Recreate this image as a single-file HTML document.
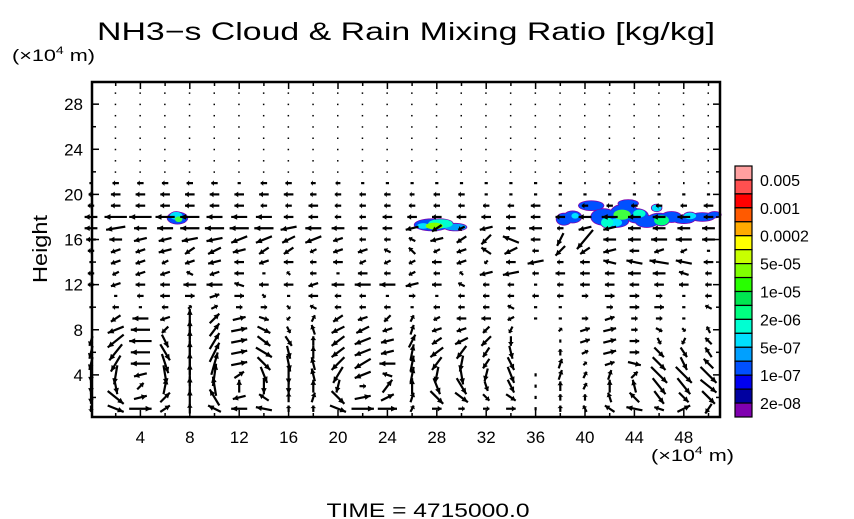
<!DOCTYPE html>
<html><head><meta charset="utf-8">
<style>
html,body{margin:0;padding:0;background:#fff;}
svg{display:block;font-family:"Liberation Sans","DejaVu Sans",sans-serif;}
</style></head>
<body>
<svg id="chart" width="854" height="519" viewBox="0 0 854 519" xmlns="http://www.w3.org/2000/svg">
<rect x="0" y="0" width="854" height="519" fill="#fff"/>
<text x="406" y="40" font-size="25" text-anchor="middle" textLength="618" lengthAdjust="spacingAndGlyphs" fill="#000">NH3−s Cloud &amp; Rain Mixing Ratio [kg/kg]</text>
<text x="12" y="61" font-size="17" textLength="83" lengthAdjust="spacingAndGlyphs" fill="#000">(×10<tspan font-size="11" dy="-7">4</tspan><tspan dy="7"> m)</tspan></text>
<text x="651" y="461" font-size="17" textLength="83" lengthAdjust="spacingAndGlyphs" fill="#000">(×10<tspan font-size="11" dy="-7">4</tspan><tspan dy="7"> m)</tspan></text>
<text transform="translate(47,249) rotate(-90)" font-size="20" text-anchor="middle" textLength="68" lengthAdjust="spacingAndGlyphs" fill="#000">Height</text>
<text x="428" y="517" font-size="19" text-anchor="middle" textLength="203" lengthAdjust="spacingAndGlyphs" fill="#000">TIME = 4715000.0</text>
<g id="clouds"></g>
<g id="arrows"></g>
<g id="axes"></g>
<g id="cbar"></g>
</svg>
<script>
// ---- data ----
const xTicks = [4, 8, 12, 16, 20, 24, 28, 32, 36, 40, 44, 48];
const yTicks = [4, 8, 12, 16, 20, 24, 28];
const gridX = [0,2,4,6,8,10,12,14,16,18,20,22,24,26,28,30,32,34,36,38,40,42,44,46,48,50];
const rowY = [1,2,3,4,5,6,7,8,9,10,11,12,13,14,15,16,17,18,19,20,21];
const uRows = [
"0 10 14 6 0 -8 -10 -10 0 0 10 14 12 2 6 4 4 6 0 0 -2 -6 -10 -6 8 -4",
"0 10 8 6 0 -6 -8 -6 0 2 8 10 8 2 8 8 4 6 0 0 0 -2 -6 6 6 8",
"0 2 4 2 0 -2 0 0 0 0 -2 4 6 0 4 6 2 4 0 0 2 0 -2 8 8 10",
"0 -2 -8 2 0 2 6 4 0 -2 -6 -10 -6 2 -2 2 -2 4 0 2 2 2 4 10 10 10",
"-2 -6 -12 4 0 4 10 8 2 -2 -8 -10 -10 2 -6 -2 -4 4 0 2 2 6 8 8 4 -6",
"-2 -8 -12 6 0 6 10 10 2 0 -8 -10 -8 2 -8 -6 -4 2 0 0 4 8 6 6 4 -4",
"-2 -10 -14 4 0 6 10 8 4 0 -8 -10 -8 4 -6 -8 -6 0 0 0 6 8 6 2 -2 -4",
"0 -10 -12 -4 0 6 10 8 2 -2 -8 -8 -6 2 -6 -6 -4 -2 0 2 6 8 4 4 2 -2",
"0 -6 -10 -6 0 6 8 6 -2 2 -6 -6 -4 2 -4 -6 -6 -4 -2 2 4 6 4 4 2 0",
"-2 -4 -2 -4 2 4 4 4 2 -4 -4 -4 -4 -2 -4 -4 -4 -4 -2 -2 0 4 6 6 2 -4",
"0 -2 -4 -6 6 6 6 2 -2 -6 -4 -4 -2 4 -2 -4 -4 -4 -4 -4 4 6 6 4 2 -4",
"-4 -6 -6 -6 -8 -10 -6 -6 -6 -6 -8 -10 -10 -8 -6 -4 -4 -4 -2 -4 -6 -6 -6 -6 -6 -4",
"-4 -4 -6 -6 -4 -6 -6 -2 -2 -4 -2 -6 -4 -4 -4 -2 -8 -10 -4 -6 -6 -6 -8 -8 -6 -4",
"-2 -6 -6 -4 -6 -8 -6 -6 -6 -4 -6 -4 -4 -4 -6 -6 -2 -6 -10 -4 -6 -8 -10 -12 -10 -6",
"-4 -6 -6 -8 -6 -8 -8 -6 -6 -4 -6 -6 -4 -4 -4 -6 -6 -8 -4 -6 -6 -8 -6 -6 -4 -2",
"-6 -8 -8 -8 -10 -10 -10 -10 -8 -10 -6 -4 -4 -4 -8 -6 -6 -10 -6 -4 -10 -8 -8 -10 -10 -8",
"-8 -12 -8 -10 -12 -12 -12 -12 -10 -10 -8 -6 -6 -8 -6 -4 -8 -6 -8 -4 -8 -8 -8 -8 -8 -8",
"-8 -14 -14 -12 -12 -10 -10 -10 -6 -6 -4 -4 -6 -6 -6 -6 -6 -6 -6 -6 -8 -10 -8 -8 -8 -6",
"-4 -6 -6 -6 -6 -6 -6 -4 -4 -6 -4 -4 -4 -4 -4 -4 -4 -4 -6 -2 -4 -4 -4 -4 -4 -6",
"-3 -6 -6 -6 -6 -6 -6 -6 -6 -4 -4 -4 -4 -3 -4 -4 -2 -2 -2 -2 -2 -2 -2 -2 -2 -2",
"-2 -4 -4 -4 -4 -4 -2 -4 -4 -3 -3 -2 -2 -2 -2 -2 -2 -2 -2 -2 -1 -1 -1 -1 -1 -1"
];
const wRows = [
"-4 -4 0 4 6 4 0 2 4 4 -4 0 0 4 0 0 0 0 2 4 4 4 2 2 4 -6",
"-8 -8 2 6 10 10 -2 4 6 6 -8 2 4 6 -8 -6 -4 -4 2 4 4 6 6 -8 -6 -8",
"-10 -10 4 10 12 12 8 -10 -10 8 -8 0 8 10 -10 -10 -6 -8 2 6 4 8 8 -10 -10 -8",
"-10 -12 -2 -12 14 14 4 -10 -12 8 -10 -4 2 10 -10 -12 -8 -10 2 6 4 6 4 -10 -10 -10",
"-8 -10 0 -12 14 14 2 -8 -10 8 -8 -6 0 10 -8 -10 -6 -8 0 6 2 2 -2 -8 -8 6",
"-8 -10 0 -10 14 12 2 -6 -8 8 -6 -4 -2 10 -6 -8 -6 -8 0 4 2 2 0 -6 -6 6",
"-6 -8 0 -8 14 10 2 -6 -6 6 -6 -4 -2 8 -4 -4 -6 -6 0 2 2 2 0 -4 -4 4",
"0 -4 0 -4 12 8 2 -4 -4 6 -4 -4 -2 6 -2 -2 -4 -4 0 2 2 2 0 -2 -2 4",
"0 -4 0 -2 12 6 2 -2 -2 4 -4 -2 -4 4 -2 0 0 -2 0 0 0 2 0 0 0 0",
"0 0 0 0 2 2 0 0 -2 2 0 0 0 0 0 0 0 2 0 0 0 0 0 0 0 2",
"0 0 0 0 0 2 0 -2 0 0 0 0 0 0 0 0 0 0 0 0 0 0 0 0 0 0",
"0 -2 0 0 0 0 2 0 0 -2 0 0 0 -2 0 2 0 0 0 0 0 0 0 0 0 0",
"0 -2 -2 -2 2 -2 0 0 2 0 0 0 0 -2 0 2 -2 -2 0 0 0 0 0 0 2 0",
"0 -2 -2 -2 -2 -2 0 -2 0 0 0 -2 -2 -2 0 -2 -2 0 -2 0 0 2 2 2 2 0",
"0 -2 -2 -2 -4 -4 -2 -4 -4 -2 -2 -2 2 4 -2 -2 4 -4 0 -6 -4 -2 0 -2 -2 0",
"0 0 -2 -2 -2 -2 -4 -4 -4 -4 -2 0 0 2 -2 -4 -6 4 0 -8 -12 0 0 0 0 0",
"0 -2 0 0 0 0 0 0 -2 0 0 0 0 -2 -4 -2 -2 0 0 0 -2 -2 0 0 0 0",
"0 0 0 0 0 0 0 0 0 0 0 0 0 0 0 0 0 0 0 0 0 0 0 0 0 0",
"0 0 0 0 0 0 0 0 0 0 0 0 0 0 0 0 0 0 0 0 0 0 0 0 0 0",
"0 0 0 0 0 0 0 0 0 0 0 0 0 0 0 0 0 0 0 0 0 0 0 0 0 0",
"0 0 0 0 0 0 0 0 0 0 0 0 0 0 0 0 0 0 0 0 0 0 0 0 0 0"
];
const dotRows = [22,23,24,25,26,27,28,29];
// cloud blobs: x, y (data units), radius x, radius y (data units), color level index
const cloudX = [7.0,6.9,7.1, 27.6,28.3,27.8,29.5,26.9, 38.3,39.0,40.5,41.5,42.5,43.2,44.2,45.0,46.0,47.0,48.0,49.5,50.5, 41.8,43.0,44.4,46.2,39.2,42.5,43.5,45.8,48.5];
const cloudY = [17.9,18.1,17.8, 17.3,17.4,17.2,17.1,17.2, 17.8,18.0,19.0,18.0,17.6,18.4,18.1,17.6,17.8,18.0,17.8,18.0,18.2, 17.5,18.2,18.3,17.7,18.1,17.5,19.2,18.8,18.1];
const cloudRX = [0.8,0.5,0.3, 1.4,1.0,0.7,0.9,0.5, 0.6,0.7,1.0,1.0,1.0,1.1,0.9,0.9,0.9,0.8,0.9,1.0,0.5, 0.5,0.7,0.5,0.6,0.3,0.5,0.8,0.4,0.5];
const cloudRY = [0.5,0.35,0.25, 0.5,0.4,0.3,0.3,0.25, 0.5,0.5,0.4,0.7,0.5,0.7,0.6,0.5,0.5,0.45,0.35,0.35,0.25, 0.45,0.45,0.35,0.45,0.25,0.35,0.3,0.3,0.3];
const cloudLvl = [1,3,6, 1,4,7,2,3, 1,1,1,1,1,1,1,1,1,1,1,1,1, 4,6,4,5,3,3,1,3,3];
const cloudColors = ["#8000b0","#0050ff","#00a0ff","#00e0ff","#00ffd0","#00ff80","#40ff40","#80ff00"];
const cbarColors = ["#ffa0a0","#ff5050","#ff0000","#ff5a00","#ffaa00","#ffff00","#c8ff00","#80ff00","#28ff00","#00e650","#00ff80","#00ffd2","#00e0ff","#00a0ff","#0050ff","#0000f0","#0000a0","#8000b0"];
const cbarLabels = ["0.005","0.001","0.0002","5e-05","1e-05","2e-06","5e-07","1e-07","2e-08"];

// ---- axes ----
const NS = "http://www.w3.org/2000/svg";
const L = 92, R = 720, T = 82, B = 417;
const VS = 1.6; // vector pixel scale
function X(v){ return 91 + 12.35 * v; }
function Y(v){ return 420 - 11.28 * v; }
function mk(tag, attrs, parent){
  const e = document.createElementNS(NS, tag);
  for (const k in attrs) e.setAttribute(k, attrs[k]);
  parent.appendChild(e);
  return e;
}
const gC = document.getElementById('clouds');
const gA = document.getElementById('arrows');
const gX = document.getElementById('axes');
const gB = document.getElementById('cbar');

const order = cloudX.map((_, i) => i).sort((a, b) => cloudLvl[a] - cloudLvl[b]);
order.forEach(i => {
  const halo = mk('ellipse', {cx: X(cloudX[i]), cy: Y(cloudY[i]), rx: cloudRX[i]*12.35 + 0.8, ry: cloudRY[i]*11.28 + 0.8, fill: cloudColors[0]}, gC);
  
  
});
order.forEach(i => {
  const el = mk('ellipse', {cx: X(cloudX[i]), cy: Y(cloudY[i]), rx: cloudRX[i]*12.35, ry: cloudRY[i]*11.28, fill: cloudColors[cloudLvl[i]]}, gC);
  
  
});

rowY.forEach((yv, r) => {
  const us = uRows[r].split(' ').map(Number);
  const ws = wRows[r].split(' ').map(Number);
  gridX.forEach((xv, c) => {
    const u = us[c]*VS, w = ws[c]*VS;
    const cx = X(xv), cy = Y(yv);
    const len = Math.hypot(u, w);
    if (len < 0.5) return;
    const x1 = cx - u/2, y1 = cy + w/2, x2 = cx + u/2, y2 = cy - w/2;
    const g = mk('g', {}, gA);
    
    
    mk('line', {x1: x1, y1: y1, x2: x2, y2: y2, stroke: '#000', 'stroke-width': 2.2}, g);
    if (len >= 4) {
      const ux = u/len, uy = -w/len, h = Math.min(6, len*0.4), hw = 2.8;
      const bx = x2 - ux*h, by = y2 - uy*h;
      mk('polygon', {points: `${x2},${y2} ${bx - uy*hw},${by + ux*hw} ${bx + uy*hw},${by - ux*hw}`, fill: '#000'}, g);
    }
  });
});
dotRows.forEach(yv => {
  gridX.forEach(xv => {
    if (xv === 0) return;
    const d = mk('rect', {x: X(xv) - 1, y: Y(yv) - 0.5, width: 1.5, height: 1.5, fill: '#000'}, gA);
    
    
  });
});

const frame = mk('rect', {x: L, y: T, width: R - L, height: B - T, fill: 'none', stroke: '#000', 'stroke-width': 2.5}, gX);


for (let v = 2; v <= 50; v += 2) {
  const major = v % 4 === 0, len = major ? 7 : 4;
  mk('line', {x1: X(v), y1: B, x2: X(v), y2: B - len, stroke: '#000', 'stroke-width': 1.5}, gX);
  mk('line', {x1: X(v), y1: T, x2: X(v), y2: T + len, stroke: '#000', 'stroke-width': 1.5}, gX);
}
for (let v = 2; v <= 29; v += 2) {
  const major = v % 4 === 0, len = major ? 7 : 4;
  mk('line', {x1: L, y1: Y(v), x2: L + len, y2: Y(v), stroke: '#000', 'stroke-width': 1.5}, gX);
  mk('line', {x1: R, y1: Y(v), x2: R - len, y2: Y(v), stroke: '#000', 'stroke-width': 1.5}, gX);
}
xTicks.forEach(v => {
  const t = mk('text', {x: X(v), y: 443, 'font-size': 17, 'text-anchor': 'middle', fill: '#000'}, gX);
  t.textContent = v;
  
  
});
yTicks.forEach(v => {
  const t = mk('text', {x: 83, y: Y(v) + 6, 'font-size': 17, 'text-anchor': 'end', fill: '#000'}, gX);
  t.textContent = v;
  
  
});

const cbTop = 166, cbH = 251 / cbarColors.length;
cbarColors.forEach((col, i) => {
  const r = mk('rect', {x: 735, y: cbTop + i*cbH, width: 17, height: cbH, fill: col, stroke: '#000', 'stroke-width': 1.2}, gB);
  
  
});
cbarLabels.forEach((lab, i) => {
  const t = mk('text', {x: 760, y: cbTop + (2*i + 1)*cbH + 6, 'font-size': 16, fill: '#000'}, gB);
  t.textContent = lab;
  
  
});
</script>
</body></html>
